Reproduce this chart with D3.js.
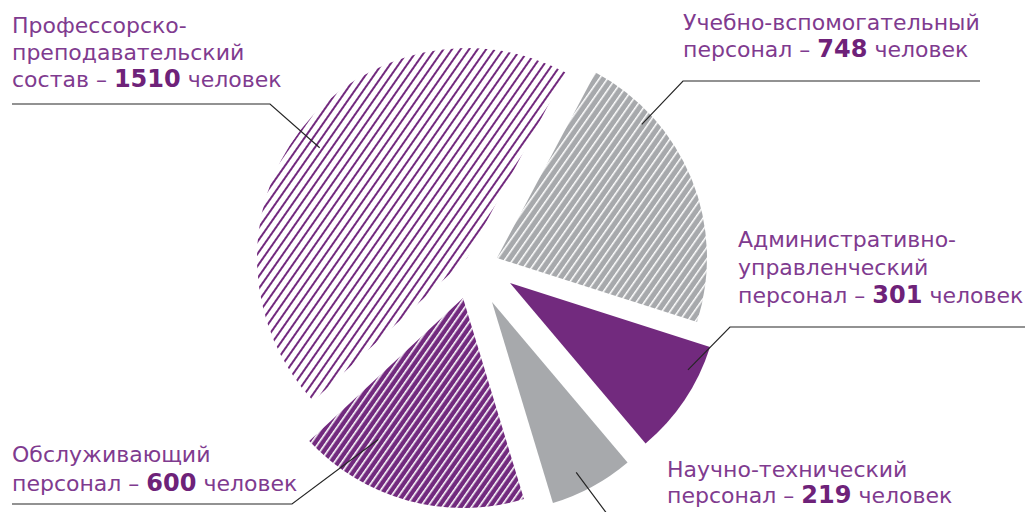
<!DOCTYPE html>
<html><head><meta charset="utf-8">
<script src="https://cdn.jsdelivr.net/npm/d3@7"></script>
<style>html,body{margin:0;padding:0;background:#fff;}svg{display:block;}</style>
</head><body>
<svg id="chart" width="1027" height="512"></svg>
<script>
// ---------- DATA ----------
const values = [748, 301, 219, 600, 1510];
const nameLines = [
  ["Учебно-вспомогательный"],
  ["Административно-", "управленческий"],
  ["Научно-технический"],
  ["Обслуживающий"],
  ["Профессорско-", "преподавательский"]
];
const lastWords = ["персонал", "персонал", "персонал", "персонал", "состав"];
const unitWord = "человек";

// ---------- LAYOUT / STYLE ----------
const W = 1027, H = 512;
const center = [480, 275];
const radius = 210;
const startDeg = 28;
const shifts = [[17,-17],[30,8],[12,27],[-17,23],[-13,-17]];
const fills = ["url(#hatchGray)", "#722a7e", "#a7a9ac", "url(#hatchDense)", "url(#hatchLight)"];
const labelPos = [
  {x:683, y:30, lh:27, tip:[47.3,197], elbow:[683,81], end:[980,81]},
  {x:738, y:247, lh:28, tip:[116,198], elbow:[730,327], end:[1025,327]},
  {x:667, y:477, lh:26, tip:[153.7,190], elbow:[622,534], end:[900,534]},
  {x:12, y:462, lh:29, tip:[210.9,165], elbow:[292,504], end:[12,504]},
  {x:12, y:33, lh:27, tip:[306.8,184], elbow:[270,104], end:[12,104]}
];
const textColor = "#7f3b8f", boldColor = "#6e2279", lineColor = "#262626";
const fontFamily = "'DejaVu Sans', sans-serif", fontSize = 22, boldSize = 24;

const svg = d3.select("#chart");
const defs = svg.append("defs");
function hatch(id, bg, fg, period, lw, angle){
  const p = defs.append("pattern").attr("id", id).attr("patternUnits","userSpaceOnUse")
    .attr("width", period).attr("height", 10).attr("patternTransform", `rotate(${angle})`);
  p.append("rect").attr("width", period).attr("height", 10).attr("fill", bg);
  p.append("rect").attr("x", 0).attr("width", lw).attr("height", 10).attr("fill", fg);
}
hatch("hatchLight", "#ffffff", "#722a7e", 7.0, 2.0, 35);
hatch("hatchGray", "#a7a9ac", "#ffffff", 6.6, 1.5, 35);
hatch("hatchDense", "#722a7e", "#ffffff", 6.0, 1.6, 35);

const toRad = d => d * Math.PI / 180;
const pie = d3.pie().sort(null).value(d => d)
  .startAngle(toRad(startDeg)).endAngle(toRad(startDeg) + 2 * Math.PI);
const arcs = pie(values);
const arc = d3.arc().innerRadius(0).outerRadius(radius);

const g = svg.append("g");
g.selectAll("path.slice").data(arcs).enter().append("path")
  .attr("class", "slice")
  .attr("transform", (d, i) => `translate(${center[0] + shifts[i][0]},${center[1] + shifts[i][1]})`)
  .attr("d", arc)
  .attr("fill", (d, i) => fills[i]);

// leader lines
arcs.forEach((d, i) => {
  const lp = labelPos[i];
  const ox = center[0] + shifts[i][0], oy = center[1] + shifts[i][1];
  const a = toRad(lp.tip[0]);
  const tx = ox + lp.tip[1] * Math.sin(a), ty = oy - lp.tip[1] * Math.cos(a);
  svg.append("path")
    .attr("d", d3.line()([[tx, ty], lp.elbow, lp.end]))
    .attr("fill", "none").attr("stroke", lineColor).attr("stroke-width", 1.2);
});

// labels
arcs.forEach((d, i) => {
  const lp = labelPos[i];
  const t = svg.append("text").attr("x", lp.x).attr("y", lp.y)
    .attr("font-family", fontFamily).attr("font-size", fontSize).attr("fill", textColor);
  nameLines[i].forEach((ln, k) => {
    t.append("tspan").attr("x", lp.x).attr("y", lp.y + k * lp.lh).text(ln);
  });
  const yl = lp.y + nameLines[i].length * lp.lh;
  t.append("tspan").attr("x", lp.x).attr("y", yl).text(lastWords[i] + " – ");
  t.append("tspan").attr("font-weight", "bold").attr("font-size", boldSize).attr("fill", boldColor).text(d.data);
  t.append("tspan").text(" " + unitWord);
});
</script>
</body></html>
